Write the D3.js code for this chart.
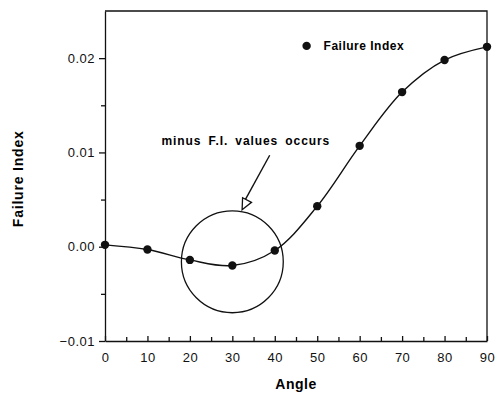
<!DOCTYPE html>
<meta charset="utf-8">
<style>
body { margin: 0; background: #fff; font-family: "Liberation Sans", Arial, Helvetica, sans-serif; }
.axis path, .axis line { stroke: #111; stroke-width: 1.3; fill: none; }
.axis text { font-size: 13px; fill: #111; letter-spacing: 0.5px; }
</style>
<body>
<script src="https://d3js.org/d3.v7.min.js"></script>
<script>

// data
var angles = [0, 10, 20, 30, 40, 50, 60, 70, 80, 90];
var failureIndex = [0.0002, -0.0003, -0.0014, -0.0020, -0.0004, 0.0043, 0.0107, 0.0164, 0.0198, 0.0212];
var xTicks = [0, 10, 20, 30, 40, 50, 60, 70, 80, 90];
var yTicks = [-0.01, 0.00, 0.01, 0.02];
var legendLabel = "Failure Index";
var noteText = "minus F.I. values occurs";
var circleCenter = [30, -0.0016];   // angle, F.I.
var circleRadius = 12;              // in angle units

var W = 495, H = 397;
var margin = {top: 11, right: 8, bottom: 56, left: 105};
var width = W - margin.left - margin.right,
    height = H - margin.top - margin.bottom;

var x = d3.scaleLinear().domain([0, 90]).range([0, width]);
var y = d3.scaleLinear().domain([-0.01, 0.025]).range([height, 0]);

var svg = d3.select("body").append("svg")
    .attr("width", W).attr("height", H)
  .append("g")
    .attr("transform", "translate(" + margin.left + "," + margin.top + ")");

// frame top and right
svg.append("path")
    .attr("d", "M0,0H" + width + "V" + height)
    .attr("fill", "none").attr("stroke", "#111").attr("stroke-width", 1.3);

// minor ticks
svg.append("g").attr("class", "axis")
    .attr("transform", "translate(0," + height + ")")
    .call(d3.axisBottom(x).tickValues(d3.range(5, 90, 10)).tickSize(-4).tickFormat(""))
    .select(".domain").remove();
svg.append("g").attr("class", "axis")
    .call(d3.axisLeft(y).tickValues([-0.005, 0.005, 0.015]).tickSize(4).tickFormat(""))
    .select(".domain").remove();

// x axis
var xa = svg.append("g").attr("class", "axis")
    .attr("transform", "translate(0," + height + ")")
    .call(d3.axisBottom(x).tickValues(xTicks).tickSizeInner(-6).tickSizeOuter(0).tickPadding(12));
xa.selectAll(".tick line").attr("y2", -5);

// y axis
svg.append("g").attr("class", "axis")
    .call(d3.axisLeft(y).tickValues(yTicks).tickSizeInner(6).tickSizeOuter(0).tickPadding(4)
      .tickFormat(function(d) { return d3.format(".2f")(d); }));

// axis titles
svg.append("text")
    .attr("x", x(45)).attr("y", height + 48)
    .attr("text-anchor", "middle")
    .style("font-size", "14px").style("font-weight", "bold").style("letter-spacing", "0.5px")
    .text("Angle");
svg.append("text")
    .attr("transform", "translate(" + (-82) + "," + y(0.0072) + ") rotate(-90)")
    .attr("text-anchor", "middle")
    .style("font-size", "14px").style("font-weight", "bold").style("letter-spacing", "0.8px")
    .text("Failure Index");

// curve
var pts = angles.map(function(a, i) { return [a, failureIndex[i]]; });
var line = d3.line()
    .x(function(d) { return x(d[0]); })
    .y(function(d) { return y(d[1]); })
    .curve(d3.curveCatmullRom);
svg.append("path")
    .datum(pts)
    .attr("d", line)
    .attr("fill", "none").attr("stroke", "#111").attr("stroke-width", 1.4);

svg.selectAll(".dot")
    .data(pts)
  .enter().append("circle")
    .attr("class", "dot")
    .attr("cx", function(d) { return x(d[0]); })
    .attr("cy", function(d) { return y(d[1]); })
    .attr("r", 4.2)
    .attr("fill", "#111");

// highlight circle
var cx = x(circleCenter[0]), cy = y(circleCenter[1]);
var r = x(circleRadius) - x(0);
svg.append("circle")
    .attr("cx", cx).attr("cy", cy).attr("r", r)
    .attr("fill", "none").attr("stroke", "#111").attr("stroke-width", 1.3);

// annotation text and arrow
svg.append("text")
    .attr("x", x(13.3)).attr("y", y(0.0108))
    .style("font-size", "12px").style("font-weight", "bold")
    .style("letter-spacing", "0.9px").style("word-spacing", "3px")
    .text(noteText);

var ax0 = x(38.8), ay0 = y(0.0097);
var ax1 = x(32.3), ay1 = cy - r - 1;
svg.append("line")
    .attr("x1", ax0).attr("y1", ay0).attr("x2", ax1 + 2).attr("y2", ay1 - 8)
    .attr("stroke", "#111").attr("stroke-width", 1.4);
// open arrow head
var ang = Math.atan2(ay1 - ay0, ax1 - ax0);
var hl = 11, hw = 5;
var bx = ax1 - hl * Math.cos(ang), by = ay1 - hl * Math.sin(ang);
svg.append("path")
    .attr("d", "M" + ax1 + "," + ay1 +
      "L" + (bx + hw * Math.sin(ang)) + "," + (by - hw * Math.cos(ang)) +
      "L" + (bx - hw * Math.sin(ang)) + "," + (by + hw * Math.cos(ang)) + "Z")
    .attr("fill", "#fff").attr("stroke", "#111").attr("stroke-width", 1.3);

// legend
svg.append("circle")
    .attr("cx", x(47.5)).attr("cy", y(0.0213)).attr("r", 4.2).attr("fill", "#111");
svg.append("text")
    .attr("x", x(51.5)).attr("y", y(0.0213)).attr("dy", "0.35em")
    .style("font-size", "12px").style("font-weight", "bold").style("letter-spacing", "0.5px")
    .text(legendLabel);

</script>
</body>
